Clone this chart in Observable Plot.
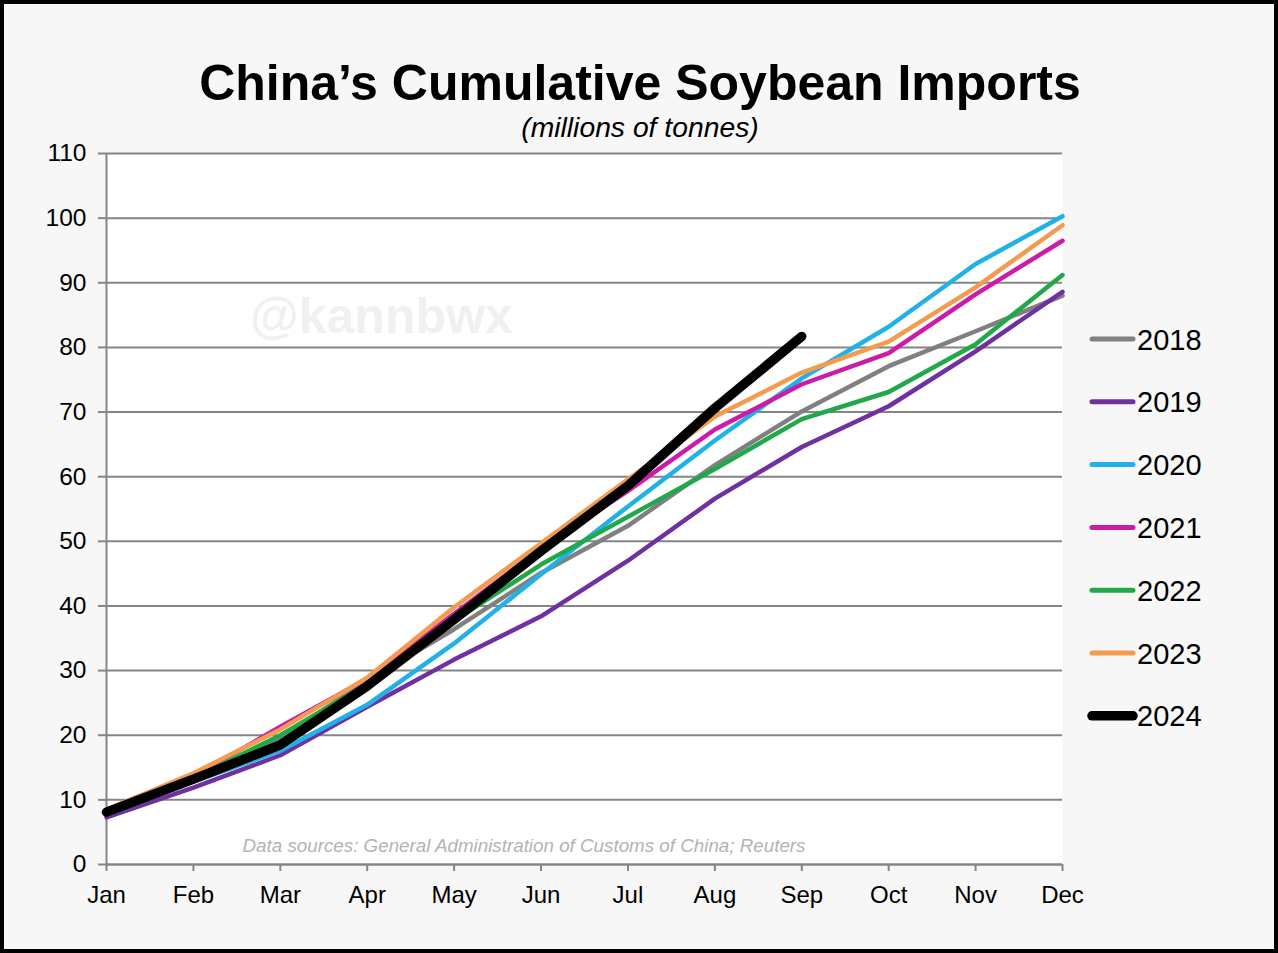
<!DOCTYPE html>
<html>
<head>
<meta charset="utf-8">
<script src="https://cdn.jsdelivr.net/npm/d3@7"></script>
<script src="https://cdn.jsdelivr.net/npm/@observablehq/plot@0.6"></script>
<style>
  html, body { margin: 0; padding: 0; background: #f7f7f7; }
  #chart { width: 1278px; height: 953px; }
</style>
</head>
<body>
<div id="chart"></div>
<script>
const months = ["Jan","Feb","Mar","Apr","May","Jun","Jul","Aug","Sep","Oct","Nov","Dec"];
const years = ["2018","2019","2020","2021","2022","2023","2024"];
const yTicks = [0,10,20,30,40,50,60,70,80,90,100,110];

const v2018 = [8.2, 13.1, 19.6, 28.4, 36.4, 45.1, 52.4, 61.8, 70.1, 77.1, 82.5, 88.0];
const v2019 = [7.3, 11.9, 16.9, 24.4, 31.7, 38.4, 47.0, 56.6, 64.6, 70.9, 79.4, 88.6];
const v2020 = [7.7, 12.8, 17.6, 24.7, 34.2, 44.9, 55.4, 65.6, 75.2, 83.2, 92.9, 100.3];
const v2021 = [8.1, 13.6, 21.3, 28.7, 38.8, 48.9, 57.8, 67.3, 74.3, 79.1, 88.2, 96.5];
const v2022 = [8.0, 13.3, 20.0, 27.9, 37.7, 46.4, 53.8, 61.2, 68.9, 73.1, 80.5, 91.2];
const v2023 = [8.5, 14.1, 20.9, 28.9, 39.8, 49.7, 59.6, 69.3, 76.1, 80.9, 89.3, 98.9];
const v2024 = [8.1, 13.2, 18.5, 27.6, 37.9, 48.5, 58.6, 70.6, 81.7];

const colors = ["#808080", "#7030a0", "#21b1e9", "#cc1ba9", "#20a84a", "#f39b4f", "#000000"];

const series = [v2018, v2019, v2020, v2021, v2022, v2023, v2024];
const rows = years.flatMap((yr, i) => series[i].map((v, j) => ({year: yr, month: months[j], value: v})));
const past = rows.filter(d => d.year !== "2024");
const current = rows.filter(d => d.year === "2024");

const grid = "#858585";

const chart = Plot.plot({
  width: 1278,
  height: 953,
  marginTop: 153,
  marginBottom: 89,
  marginLeft: 106,
  marginRight: 216,
  style: {background: "#f7f7f7", fontFamily: "'Liberation Sans', Arial, sans-serif", color: "black", overflow: "visible"},
  x: {type: "point", domain: months, padding: 0, round: false, label: null},
  y: {domain: [0, 110], label: null},
  color: {domain: years, range: colors},
  marks: [
    Plot.frame({fill: "white", stroke: "none"}),
    Plot.gridY(yTicks, {stroke: grid, strokeOpacity: 1, strokeWidth: 2}),
    Plot.ruleX([months[0]], {stroke: grid, strokeWidth: 2}),
    Plot.ruleY([0], {stroke: grid, strokeWidth: 2}),
    Plot.axisY(yTicks, {tickSize: 8, tickPadding: 12, fontSize: 24.5, stroke: grid, strokeWidth: 2, fill: "black", label: null}),
    Plot.axisX(months, {tickSize: 7, tickPadding: 14, fontSize: 24, stroke: grid, strokeWidth: 2, fill: "black", label: null}),
    Plot.line(past, {x: "month", y: "value", z: "year", stroke: "year", strokeWidth: 4.5, strokeLinejoin: "round", strokeLinecap: "round"}),
    Plot.line(current, {x: "month", y: "value", z: "year", stroke: "year", strokeWidth: 9.5, strokeLinejoin: "round", strokeLinecap: "round"})
  ]
});

document.getElementById("chart").appendChild(chart);

const svg = d3.select(chart);
const font = "'Liberation Sans', Arial, sans-serif";

// watermark (behind the data)
svg.insert("text", ":scope > g:nth-of-type(3)")
  .attr("x", 250).attr("y", 333).attr("text-anchor", "start")
  .attr("font-family", font).attr("font-weight", "bold").attr("font-size", 50)
  .attr("fill", "#f0f0f0")
  .text("@kannbwx");

// title & subtitle
svg.append("text")
  .attr("x", 640).attr("y", 100).attr("text-anchor", "middle")
  .attr("font-family", font).attr("font-weight", "bold").attr("font-size", 50)
  .attr("fill", "black")
  .text("China’s Cumulative Soybean Imports");
svg.append("text")
  .attr("x", 640).attr("y", 137).attr("text-anchor", "middle")
  .attr("font-family", font).attr("font-style", "italic").attr("font-size", 28.3)
  .attr("fill", "black")
  .text("(millions of tonnes)");

// source note
svg.append("text")
  .attr("x", 524).attr("y", 852).attr("text-anchor", "middle")
  .attr("font-family", font).attr("font-style", "italic").attr("font-size", 18.8)
  .attr("fill", "#b3b3b3")
  .text("Data sources: General Administration of Customs of China; Reuters");

// legend
const leg = svg.append("g");
years.forEach((yr, i) => {
  const cy = 339 + i * 62.8;
  leg.append("line")
    .attr("x1", 1092).attr("x2", 1133).attr("y1", cy).attr("y2", cy)
    .attr("stroke", colors[i]).attr("stroke-width", yr === "2024" ? 9.5 : 5)
    .attr("stroke-linecap", "round");
  leg.append("text")
    .attr("x", 1137).attr("y", cy + 10.5).attr("text-anchor", "start")
    .attr("font-family", font).attr("font-size", 29).attr("fill", "black")
    .text(yr);
});

// outer border
svg.append("rect")
  .attr("x", 0).attr("y", 0).attr("width", 1278).attr("height", 953)
  .attr("fill", "none").attr("stroke", "black").attr("stroke-width", 8);
</script>
</body>
</html>
